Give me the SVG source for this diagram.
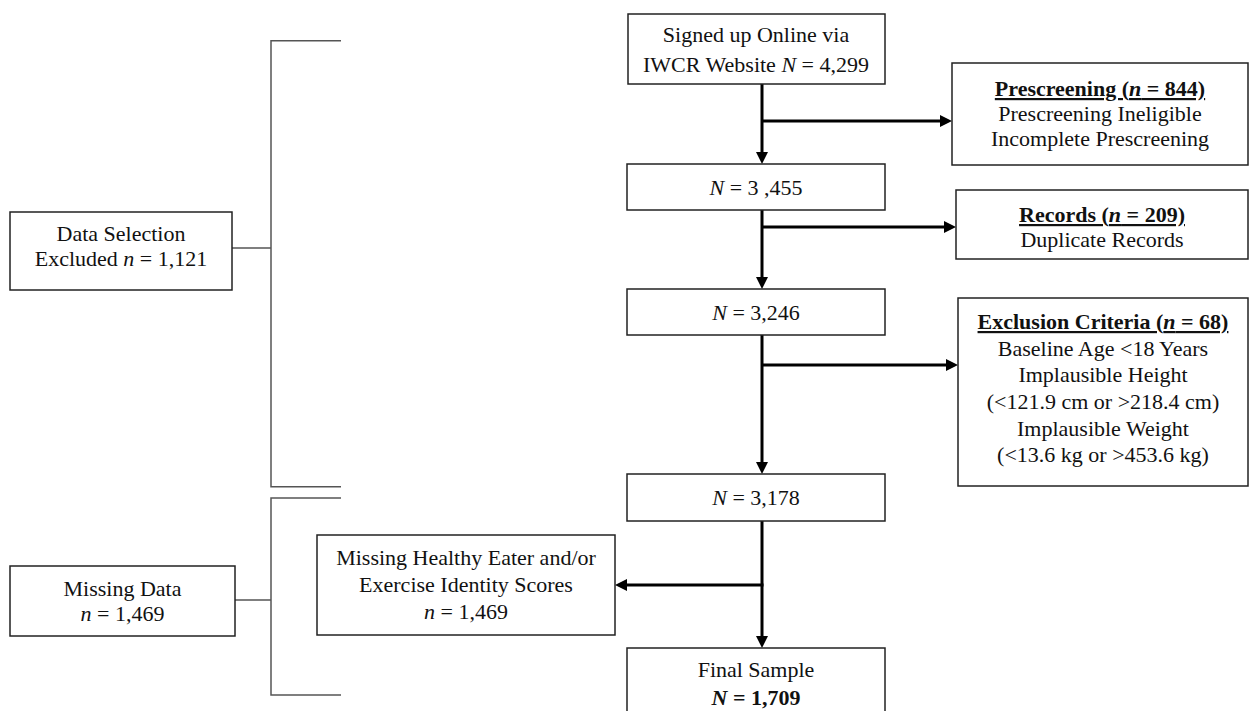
<svg xmlns="http://www.w3.org/2000/svg" width="1249" height="711" viewBox="0 0 1249 711">
<style>
  .box { fill: #ffffff; stroke: #222222; stroke-width: 1.5; }
  .br { fill: none; stroke: #555555; stroke-width: 1.5; }
  .ar { fill: none; stroke: #000000; stroke-width: 3; }
  text { font-family: "Liberation Serif", "Times New Roman", serif; font-size: 22px; fill: #111111; text-anchor: middle; }
  .i { font-style: italic; }
  .b { font-weight: bold; }
  .u { text-decoration: underline; }
</style>
<defs>
  <marker id="ah" markerUnits="userSpaceOnUse" markerWidth="12" markerHeight="12" refX="0" refY="6" orient="auto" viewBox="0 0 12 12">
    <path d="M0,0 L12,6 L0,12 z" fill="#000000"/>
  </marker>
</defs>

<g id="connectors">
  <line class="ar" x1="762" y1="84" x2="762" y2="152" marker-end="url(#ah)"/>
  <line class="ar" x1="762" y1="121" x2="940" y2="121" marker-end="url(#ah)"/>
  <line class="ar" x1="762" y1="210" x2="762" y2="277" marker-end="url(#ah)"/>
  <line class="ar" x1="762" y1="227" x2="944" y2="227" marker-end="url(#ah)"/>
  <line class="ar" x1="762" y1="335" x2="762" y2="462" marker-end="url(#ah)"/>
  <line class="ar" x1="762" y1="365" x2="946" y2="365" marker-end="url(#ah)"/>
  <line class="ar" x1="762" y1="521" x2="762" y2="636" marker-end="url(#ah)"/>
  <line class="ar" x1="763.5" y1="585" x2="627" y2="585" marker-end="url(#ah)"/>
  <path class="br" d="M341,40.7 H271 V486.7 H341"/>
  <path class="br" d="M232,248 H271"/>
  <path class="br" d="M341,498 H271 V695 H341"/>
  <path class="br" d="M235,600 H271"/>
</g>

<g id="signed-up">
  <rect class="box" x="628" y="14" width="257" height="70"/>
  <text x="756" y="42">Signed up Online via</text>
  <text x="756" y="72">IWCR Website <tspan class="i">N</tspan> = 4,299</text>
</g>

<g id="n3455">
  <rect class="box" x="627" y="164" width="258" height="46"/>
  <text x="756" y="194.5"><tspan class="i">N</tspan> = 3 ,455</text>
</g>

<g id="n3246">
  <rect class="box" x="627" y="289" width="258" height="46"/>
  <text x="756" y="320"><tspan class="i">N</tspan> = 3,246</text>
</g>

<g id="n3178">
  <rect class="box" x="627" y="474" width="258" height="47"/>
  <text x="756" y="505"><tspan class="i">N</tspan> = 3,178</text>
</g>

<g id="final-sample">
  <rect class="box" x="627" y="648" width="258" height="75"/>
  <text x="756" y="676.5">Final Sample</text>
  <text x="756" y="704.5" class="b"><tspan class="i">N</tspan> = 1,709</text>
</g>

<g id="prescreening">
  <rect class="box" x="952" y="63" width="296" height="102"/>
  <text x="1100" y="96" class="b u">Prescreening (<tspan class="i">n</tspan> = 844)</text>
  <text x="1100" y="121">Prescreening Ineligible</text>
  <text x="1100" y="146">Incomplete Prescreening</text>
</g>

<g id="records">
  <rect class="box" x="956" y="190" width="292" height="69"/>
  <text x="1102" y="222" class="b u">Records (<tspan class="i">n</tspan> = 209)</text>
  <text x="1102" y="247">Duplicate Records</text>
</g>

<g id="exclusion">
  <rect class="box" x="958" y="298" width="290" height="188"/>
  <text x="1103" y="329" class="b u">Exclusion Criteria (<tspan class="i">n</tspan> = 68)</text>
  <text x="1103" y="356">Baseline Age &lt;18 Years</text>
  <text x="1103" y="382">Implausible Height</text>
  <text x="1103" y="409">(&lt;121.9 cm or &gt;218.4 cm)</text>
  <text x="1103" y="436">Implausible Weight</text>
  <text x="1103" y="462">(&lt;13.6 kg or &gt;453.6 kg)</text>
</g>

<g id="missing-scores">
  <rect class="box" x="317" y="535" width="298" height="100"/>
  <text x="466" y="565">Missing Healthy Eater and/or</text>
  <text x="466" y="592">Exercise Identity Scores</text>
  <text x="466" y="619"><tspan class="i">n</tspan> = 1,469</text>
</g>

<g id="data-selection">
  <rect class="box" x="10" y="212" width="222" height="78"/>
  <text x="121" y="241">Data Selection</text>
  <text x="121" y="266">Excluded <tspan class="i">n</tspan> = 1,121</text>
</g>

<g id="missing-data">
  <rect class="box" x="10" y="566" width="225" height="70"/>
  <text x="122.5" y="596">Missing Data</text>
  <text x="122.5" y="621"><tspan class="i">n</tspan> = 1,469</text>
</g>
</svg>
